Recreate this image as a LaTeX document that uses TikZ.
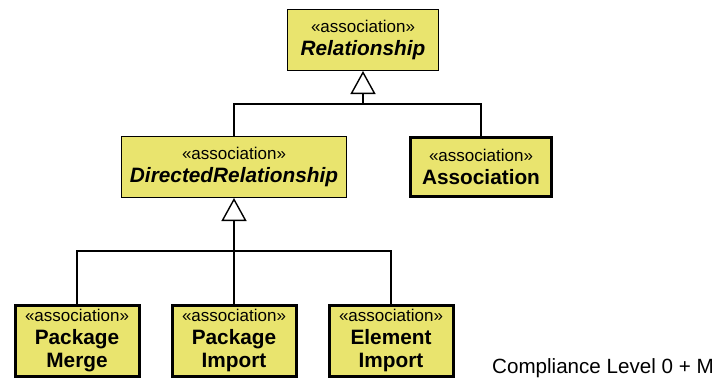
\documentclass[tikz,border=0pt]{standalone}
\usepackage{fontspec}
\setmainfont{Liberation Sans}
\usetikzlibrary{positioning, arrows.meta}

\definecolor{umlyellow}{RGB}{233,228,110}
\newcommand{\stereo}{{\fontsize{17}{23}\mdseries\upshape\selectfont «association»}}

\begin{document}
\begin{tikzpicture}[x=1pt, y=-1pt,
    assoc/.style={draw, fill=umlyellow, line width=1.4pt, align=center, inner sep=0pt,
        minimum height=60.6pt, font=\fontsize{20.8}{23}\selectfont\bfseries},
    active/.style={assoc, line width=3pt},
    leaf/.style={active, minimum width=124pt, minimum height=71pt},
    link/.style={line width=1.4pt},
    gen/.style={link, -{Triangle[open, length=23pt, width=25pt]}}]
\useasboundingbox (0,0) rectangle (715,378);

% abstract relationships
\node[assoc, minimum width=150.6pt] (rel) at (363,40) {\stereo\\\itshape Relationship};
\node[assoc, minimum width=224.6pt] (dr) at (234,167) {\stereo\\\itshape DirectedRelationship};
\node[active, minimum width=141pt, minimum height=59pt] (assoc) at (481,167) {\stereo\\Association};

% concrete directed relationships
\node[leaf] (pimport) at (234,340.5) {\stereo\\Package\\Import};
\node[leaf] (pmerge) [left=30pt of pimport] {\stereo\\Package\\Merge};
\node[leaf] (eimport) [right=30pt of pimport] {\stereo\\Element\\Import};

\node[anchor=base west, inner sep=0pt, font=\fontsize{20.6}{24}\selectfont] (level) at (492,373) {Compliance Level 0 + M};

% generalizations
\coordinate (tophub) at (363,104);
\draw[gen] (tophub) -- (rel.south);
\draw[link] (dr.north) |- (tophub) -| (assoc.north);

\coordinate (lowhub) at (234,251);
\draw[gen] (lowhub) -- (dr.south);
\draw[link] (pmerge.north) |- (lowhub) -| (eimport.north);
\draw[link] (pimport.north) -- (lowhub);

\end{tikzpicture}
\end{document}
